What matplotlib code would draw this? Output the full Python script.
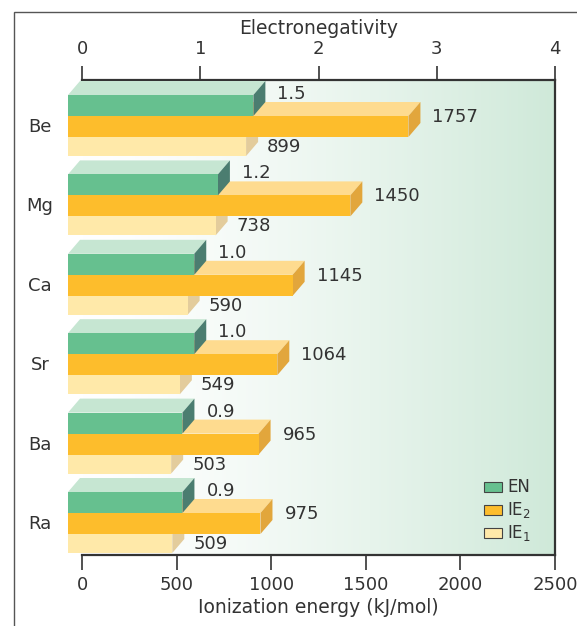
import numpy as np
import matplotlib.pyplot as plt
from matplotlib.patches import Polygon, Rectangle

plt.rcParams['font.family'] = ['DejaVu Sans']

# Datos
elements = ['Be', 'Mg', 'Ca', 'Sr', 'Ba', 'Ra']
en = [1.5, 1.2, 1.0, 1.0, 0.9, 0.9]
ie2 = [1757, 1450, 1145, 1064, 965, 975]
ie1 = [899, 738, 590, 549, 503, 509]

EN_SCALE = 2500 / 4          # 1 unidad EN en unidades de IE
PX = 2500 / 473              # 1 pixel en unidades de IE
DX, DY = 12, 14              # profundidad 3D en pixeles
TXT = '#333333'

# colores: frente, tapa, lado
c_en = ('#66c08f', '#c6e6d2', '#4b7d70')
c_ie2 = ('#fdbd2c', '#fedb8f', '#e2a63c')
c_ie1 = ('#ffe9a9', '#fff1c8', '#e3cc9c')

fig = plt.figure(figsize=(5.77, 6.26), dpi=100)
ax = fig.add_axes([82 / 577, 1 - 555 / 626, 473 / 577, 475 / 626])
ax.set_xlim(0, 2500)
ax.set_ylim(555, 80)

# Fondo degradado
g = np.linspace(0, 1, 256) ** 1.4
c0 = np.array([1.0, 1.0, 1.0])
c1 = np.array([207, 233, 217]) / 255
grad = (c0[None, :] * (1 - g[:, None]) + c1[None, :] * g[:, None])[None, :, :]
ax.imshow(grad, extent=[0, 2500, 555, 80], aspect='auto', zorder=0)


def box(v, yt, h, cols, z):
    fl = -14 * PX
    fr = v - 6 * PX
    dx = DX * PX
    top = Polygon([(fl, yt), (fr, yt), (fr + dx, yt - DY), (fl + dx, yt - DY)],
                  closed=True, fc=cols[1], ec='none', zorder=z, clip_on=False)
    side = Polygon([(fr, yt), (fr + dx, yt - DY), (fr + dx, yt - DY + h), (fr, yt + h)],
                   closed=True, fc=cols[2], ec='none', zorder=z, clip_on=False)
    front = Polygon([(fl, yt), (fr, yt), (fr, yt + h), (fl, yt + h)],
                    closed=True, fc=cols[0], ec='none', zorder=z, clip_on=False)
    for p in (top, side, front):
        ax.add_patch(p)


for i, el in enumerate(elements):
    y0 = 95 + i * 79.4
    box(ie1[i], y0 + 42, 19, c_ie1, 2)
    box(ie2[i], y0 + 21, 21, c_ie2, 3)
    box(en[i] * EN_SCALE, y0, 21, c_en, 4)
    ax.text(en[i] * EN_SCALE + 18 * PX, y0 - 1, f'{en[i]:.1f}', fontsize=13,
            color=TXT, va='center', ha='left', zorder=5)
    ax.text(ie2[i] + 18 * PX, y0 + 22, f'{ie2[i]}', fontsize=13,
            color=TXT, va='center', ha='left', zorder=5)
    ax.text(ie1[i] + 15 * PX, y0 + 52, f'{ie1[i]}', fontsize=13,
            color=TXT, va='center', ha='left', zorder=5)
    ax.text(-42 * PX, y0 + 32, el, fontsize=13, color=TXT,
            va='center', ha='center', clip_on=False)

# Ejes
for s in ['left', 'top']:
    ax.spines[s].set_visible(False)
for s in ['right', 'bottom']:
    ax.spines[s].set_color(TXT)
    ax.spines[s].set_linewidth(1.6)
ax.set_yticks([])
ax.set_xticks([0, 500, 1000, 1500, 2000, 2500])
ax.tick_params(axis='x', direction='out', length=11, width=1.2, colors=TXT,
               labelsize=13, pad=4)
ax.set_xlabel('Ionization energy (kJ/mol)', fontsize=13.5, color=TXT, labelpad=3)

sec = ax.secondary_xaxis('top', functions=(lambda x: x / EN_SCALE, lambda x: x * EN_SCALE))
sec.set_xticks([0, 1, 2, 3, 4])
sec.spines['top'].set_color(TXT)
sec.spines['top'].set_linewidth(1.6)
sec.tick_params(axis='x', direction='out', length=10, width=1.2, colors=TXT,
                labelsize=13, pad=6)
sec.set_xlabel('Electronegativity', fontsize=13.5, color=TXT, labelpad=4)

# Leyenda
leg = [(c_en[0], 'EN'), (c_ie2[0], r'IE$_2$'), (c_ie1[0], r'IE$_1$')]
for k, (col, lab) in enumerate(leg):
    yb = 482 + k * 23
    ax.add_patch(Rectangle(((484 - 82) * PX, yb), 18 * PX, 10, fc=col, ec='#444444',
                           lw=0.8, zorder=6))
    ax.text((507 - 82) * PX, yb + 5, lab, fontsize=12, color=TXT,
            va='center', ha='left', zorder=6)

# Marco exterior
fig.add_artist(Rectangle((14 / 577, -0.1), 2, 1 - 12 / 626 + 0.1,
                         transform=fig.transFigure, fill=False, ec='#555555', lw=1))

fig.savefig('out.png', dpi=100)
